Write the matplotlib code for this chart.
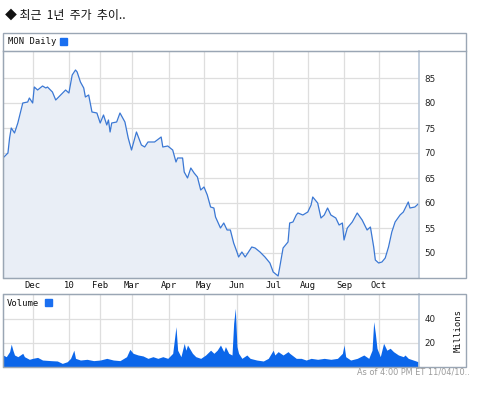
import matplotlib
matplotlib.use('Agg')
import matplotlib.pyplot as plt
from matplotlib.patches import Rectangle

W, H = 478, 395

LINE = '#3b78d4'
AREA = '#e9eef6'
VOLC = '#0b66ea'
GRID = '#dedede'
FRAME = '#9aa6b4'
AXIS = '#b9c7d8'

# trading-day index counted from 2009-11-04, closing price
price_day = [0, 3, 4, 5, 7, 9, 12, 15, 16, 18, 19, 21, 24, 26, 27, 30, 32, 35, 38, 40,
             42, 44, 45, 47, 49, 50, 52, 54, 57, 59, 61, 63, 64, 65, 66, 69, 71, 74, 76, 78,
             81, 84, 86, 88, 92, 96, 97, 100, 103, 105, 106, 109, 110, 112, 114, 116, 118, 120,
             122, 124, 126, 128, 129, 132, 134, 136, 138, 140, 142, 143, 145, 147, 149, 151,
             153, 156, 159, 162, 164, 167, 168, 170, 173, 174, 176, 178, 179, 182, 185, 187,
             188, 191, 193, 195, 197, 199, 202, 204, 206, 207, 209, 212, 215, 218, 221, 223,
             225, 226, 228, 230, 232, 234, 236, 238, 241, 243, 246, 247, 250, 252]
price = [69.0, 70.0, 73.0, 75.0, 74.0, 76.0, 80.0, 80.2, 81.0, 80.0, 83.2, 82.6, 83.4, 83.0,
         83.2, 82.2, 80.6, 81.6, 82.6, 82.0, 85.6, 86.6, 86.2, 84.2, 83.0, 81.2, 81.6, 78.2,
         78.0, 76.0, 77.6, 75.6, 76.6, 74.2, 76.0, 76.2, 78.0, 76.2, 73.0, 70.6, 74.2, 71.6,
         71.2, 72.2, 72.2, 73.2, 71.2, 71.4, 70.6, 68.2, 69.0, 69.0, 66.2, 65.0, 67.0, 66.0,
         65.2, 62.6, 63.2, 61.6, 59.2, 59.0, 57.2, 55.0, 56.0, 54.6, 54.6, 52.0, 50.2, 49.2,
         50.2, 49.2, 50.2, 51.2, 51.0, 50.2, 49.2, 48.0, 46.2, 45.4, 47.2, 51.0, 52.2, 56.0,
         56.2, 57.6, 58.0, 57.6, 58.2, 59.6, 61.2, 60.0, 57.0, 57.6, 59.0, 57.6, 57.0, 55.6,
         56.0, 52.6, 55.0, 56.2, 58.0, 56.6, 54.6, 55.2, 51.2, 48.6, 48.0, 48.2, 49.0, 51.2,
         54.2, 56.2, 57.6, 58.2, 60.2, 59.0, 59.2, 59.8]

# volume in millions
vol_day = [0, 2, 4, 5, 6, 7, 9, 12, 13, 16, 18, 21, 24, 29, 33, 36, 39, 41, 43, 44, 47, 51,
           55, 59, 63, 67, 71, 75, 77, 79, 82, 85, 88, 91, 94, 97, 100, 103, 104, 105, 106,
           108, 110, 111, 112, 115, 117, 120, 123, 126, 128, 130, 132, 134, 135, 137, 139,
           140, 141, 142, 143, 145, 148, 150, 154, 158, 161, 164, 165, 167, 170, 173, 174,
           178, 181, 184, 187, 191, 195, 199, 203, 206, 207, 208, 211, 215, 219, 222, 224,
           225, 226, 227, 229, 231, 233, 235, 237, 240, 243, 244, 246, 249, 252]
vol = [10.0, 8.6, 12.8, 19.0, 14.0, 10.0, 8.6, 11.4, 8.6, 6.4, 7.2, 8.0, 5.8, 5.3, 5.0, 3.0,
       4.4, 7.2, 14.0, 7.2, 5.8, 6.4, 5.3, 5.8, 7.2, 5.8, 5.3, 8.6, 14.7, 11.4, 10.0, 9.2,
       7.2, 8.6, 7.2, 8.6, 7.2, 11.4, 22.5, 33.6, 14.0, 8.6, 19.7, 14.0, 18.3, 11.4, 8.6,
       7.2, 10.0, 14.0, 11.4, 14.0, 18.3, 12.8, 17.0, 11.4, 10.0, 36.4, 48.9, 17.0, 11.4,
       7.2, 10.0, 7.2, 5.8, 5.0, 7.2, 14.0, 10.0, 12.8, 10.0, 12.8, 11.4, 7.2, 7.2, 5.8,
       7.2, 6.4, 7.2, 6.4, 7.2, 11.4, 18.3, 8.6, 5.8, 7.2, 10.0, 7.2, 14.0, 37.8, 28.0,
       15.6, 8.6, 19.7, 14.0, 15.6, 12.8, 10.0, 8.6, 10.0, 7.2, 5.8, 4.4]

month_day = [18, 40, 59, 78, 101, 122, 142, 164, 185, 207, 228]
month_lbl = ['Dec', '10', 'Feb', 'Mar', 'Apr', 'May', 'Jun', 'Jul', 'Aug', 'Sep', 'Oct']
price_ticks = [50, 55, 60, 65, 70, 75, 80, 85]
vol_ticks = [20, 40]


def box(x0, y0, x1, y1):
    # pixel box (top-left origin) -> figure fractions
    return [x0 / W, 1 - y1 / H, (x1 - x0) / W, (y1 - y0) / H]


fig = plt.figure(figsize=(W / 100, H / 100), dpi=100)
fig.patch.set_facecolor('white')

# panel frames
for x0, y0, x1, y1 in [(3, 33, 466, 278), (3, 294, 466, 367)]:
    b = box(x0, y0, x1, y1)
    fig.patches.append(Rectangle((b[0], b[1]), b[2], b[3], transform=fig.transFigure,
                                 fill=False, edgecolor=FRAME, lw=1.0))

# price panel
ax = fig.add_axes(box(3, 51, 419, 278))
ax.fill_between(price_day, price, 45, color=AREA, lw=0)
ax.plot(price_day, price, color=LINE, lw=0.9)
ax.set_xlim(0, 252.5)
ax.set_ylim(45, 90.4)
ax.set_yticks(price_ticks)
ax.set_xticks(month_day)
ax.set_xticklabels(month_lbl, family='DejaVu Sans Mono', fontsize=6.4)
ax.yaxis.tick_right()
ax.tick_params(axis='y', length=0, pad=4, labelsize=6.3, labelcolor='#222')
ax.tick_params(axis='x', length=0, pad=2, labelcolor='#111')
ax.grid(True, color=GRID, lw=0.9)
ax.set_axisbelow(True)
for s in ['top', 'left', 'bottom']:
    ax.spines[s].set_color(FRAME)
ax.spines['right'].set_color(AXIS)
ax.spines['right'].set_linewidth(1.2)

# volume panel
axv = fig.add_axes(box(3, 294, 419, 367))
axv.fill_between(vol_day, vol, 0, color=VOLC, lw=0)
axv.set_xlim(0, 252.5)
axv.set_ylim(0, 60.8)
axv.set_yticks(vol_ticks)
axv.set_xticks(month_day)
axv.set_xticklabels([])
axv.yaxis.tick_right()
axv.tick_params(axis='y', length=0, pad=4, labelsize=6.3, labelcolor='#222')
axv.tick_params(axis='x', length=0)
axv.grid(True, color=GRID, lw=0.9)
axv.set_axisbelow(True)
for s in ['top', 'left', 'bottom']:
    axv.spines[s].set_color(FRAME)
axv.spines['right'].set_color(AXIS)
axv.spines['right'].set_linewidth(1.2)

# header strip line, legends
hb = box(3, 51, 466, 51)
fig.add_artist(plt.Line2D([hb[0], hb[0] + hb[2]], [hb[1], hb[1]], transform=fig.transFigure,
                          color=FRAME, lw=1.0))
fig.text(8 / W, 1 - 42 / H, 'MON Daily', family='DejaVu Sans Mono', fontsize=6.4,
         va='center', ha='left', color='#111')
sq = box(60, 38, 67, 45)
fig.patches.append(Rectangle((sq[0], sq[1]), sq[2], sq[3], transform=fig.transFigure,
                             color='#1a6ff0'))
fig.text(7 / W, 1 - 303 / H, 'Volume', family='DejaVu Sans Mono', fontsize=6.4,
         va='center', ha='left', color='#111')
sq = box(45, 299, 52, 306)
fig.patches.append(Rectangle((sq[0], sq[1]), sq[2], sq[3], transform=fig.transFigure,
                             color='#1a6ff0'))
fig.text(458 / W, 1 - 330 / H, 'Millions', family='DejaVu Sans Mono', fontsize=6.4,
         rotation=90, va='center', ha='center', color='#111')

fig.text(5 / W, 1 - 15 / H, '◆ 최근  1년  주가  추이..', family=['Noto Sans CJK KR', 'DejaVu Sans'],
         fontsize=8.6, va='center', ha='left', color='#111')
fig.text(470 / W, 1 - 372 / H, 'As of 4:00 PM ET 11/04/10..', fontsize=5.9,
         va='center', ha='right', color='#9a9a9a')

fig.savefig('out.png', dpi=100, facecolor='white')
